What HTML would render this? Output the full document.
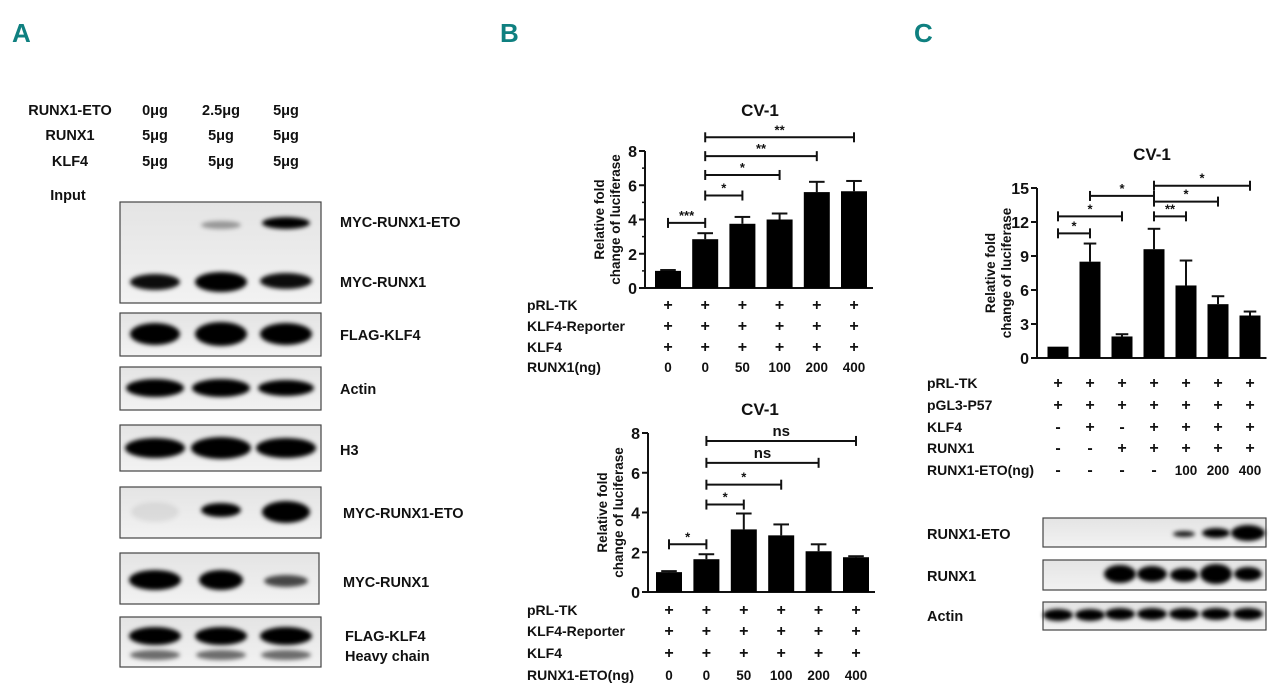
<!DOCTYPE html>
<html><head><meta charset="utf-8">
<style>
html,body{margin:0;padding:0;background:#fff;}
svg{display:block;font-family:"Liberation Sans",sans-serif;font-weight:bold;}
.lab{font-size:14.5px;fill:#111;}
.t{font-size:14px;fill:#111;}
</style></head>
<body>
<svg id="fig" width="1280" height="695" viewBox="0 0 1280 695">
<defs>
<filter id="bl" x="-30%" y="-80%" width="160%" height="260%"><feGaussianBlur stdDeviation="2.2"/></filter>
<linearGradient id="bg" x1="0" y1="0" x2="0" y2="1"><stop offset="0" stop-color="#e4e4e4"/><stop offset="1" stop-color="#f2f2f2"/></linearGradient>
</defs>
<g fill="#0f8080" font-size="26" style="font-family:'Liberation Sans Narrow','Liberation Sans',sans-serif">
<text x="12" y="42">A</text>
<text x="500" y="42">B</text>
<text x="914" y="42">C</text>
</g>
<g id="panelA"></g>
<g id="chartB1"></g>
<g id="chartB2"></g>
<g id="chartC"></g>
<g id="panelCblot"></g>
</svg>
<script>
// Chart B top data
const b1Values=[1.0,2.85,3.75,4.0,5.6,5.65];
const b1Errors=[0.05,0.35,0.4,0.35,0.6,0.6];
const b1Ticks=[0,2,4,6,8];
const b1Sig=[[0,1,3.8,"***"],[1,2,5.4,"*"],[1,3,6.6,"*"],[1,4,7.7,"**"],[1,5,8.8,"**"]];
const b1RunxNg=["0","0","50","100","200","400"];
// Chart B bottom data
const b2Values=[1.0,1.65,3.15,2.85,2.05,1.75];
const b2Errors=[0.05,0.25,0.8,0.55,0.35,0.05];
const b2Ticks=[0,2,4,6,8];
const b2Sig=[[0,1,2.4,"*"],[1,2,4.4,"*"],[1,3,5.4,"*"],[1,4,6.5,"ns"],[1,5,7.6,"ns"]];
const b2EtoNg=["0","0","50","100","200","400"];
// Chart C data
const cValues=[1.0,8.5,1.9,9.6,6.4,4.75,3.75];
const cErrors=[0,1.6,0.2,1.8,2.2,0.7,0.35];
const cTicks=[0,3,6,9,12,15];
const cSig=[[0,1,11,"*"],[0,2,12.5,"*"],[1,3,14.3,"*"],[3,4,12.5,"**"],[3,5,13.8,"*"],[3,6,15.2,"*"]];

const NS="http://www.w3.org/2000/svg";
function mk(parent,tag,attrs,text){const e=document.createElementNS(NS,tag);for(const k in attrs)e.setAttribute(k,attrs[k]);if(text!==undefined)e.textContent=text;parent.appendChild(e);return e;}

function barChart(g,cfg){
  const {axisX,y0,yTopPx,yMax,x0,step,bw,values,errors,ticks,minor,sig,title,titleY,ttlX}=cfg;
  const sy=v=>y0-(y0-yTopPx)*v/yMax;
  const sx=i=>x0+i*step;
  const t=mk(g,'text',{x:cfg.titleX,y:titleY,'text-anchor':'middle','font-size':17,fill:'#111'},title);
  
  
  const ax=mk(g,'line',{x1:axisX,y1:yTopPx,x2:axisX,y2:y0,stroke:'#111','stroke-width':2});
  
  
  const xa=mk(g,'line',{x1:axisX,y1:y0,x2:sx(values.length-1)+bw/2+6,y2:y0,stroke:'#111','stroke-width':2});
  
  
  ticks.forEach(v=>{
    mk(g,'line',{x1:axisX-6,y1:sy(v),x2:axisX,y2:sy(v),stroke:'#111','stroke-width':2});
    const tl=mk(g,'text',{x:axisX-8,y:sy(v)+6,'text-anchor':'end','font-size':16,fill:'#111'},String(v));
    
    
  });
  if(minor){for(let k=0;k<ticks.length-1;k++){const v=(ticks[k]+ticks[k+1])/2;mk(g,'line',{x1:axisX-3,y1:sy(v),x2:axisX,y2:sy(v),stroke:'#111','stroke-width':1.5});}}
  const yt=mk(g,'text',{'text-anchor':'middle','font-size':13.5,fill:'#111',transform:`translate(${ttlX},${(y0+yTopPx)/2}) rotate(-90)`});
  
  
  mk(yt,'tspan',{x:0,dy:-8},'Relative fold');
  mk(yt,'tspan',{x:0,dy:16},'change of luciferase');
  values.forEach((v,i)=>{
    const e=errors[i];
    if(e>0){
      mk(g,'line',{x1:sx(i),y1:sy(v+e),x2:sx(i),y2:sy(v),stroke:'#111','stroke-width':2});
      mk(g,'line',{x1:sx(i)-bw*0.3,y1:sy(v+e),x2:sx(i)+bw*0.3,y2:sy(v+e),stroke:'#111','stroke-width':2});
    }
    const r=mk(g,'rect',{x:sx(i)-bw/2,y:sy(v),width:bw,height:y0-sy(v),fill:'#000'});
    
    
  });
  sig.forEach(s=>{
    const [a,b,h,lab]=s;const y=sy(h);
    const bg=mk(g,'g',{});
    
    
    mk(bg,'line',{x1:sx(a),y1:y,x2:sx(b),y2:y,stroke:'#111','stroke-width':2});
    mk(bg,'line',{x1:sx(a),y1:y-5,x2:sx(a),y2:y+5,stroke:'#111','stroke-width':2});
    mk(bg,'line',{x1:sx(b),y1:y-5,x2:sx(b),y2:y+5,stroke:'#111','stroke-width':2});
    mk(bg,'text',{x:(sx(a)+sx(b))/2,y:lab==='ns'?y-5:y-3,'text-anchor':'middle','font-size':lab==='ns'?15:13,fill:'#111'},lab);
  });
  return sx;
}
function rows(g,labelX,x0,step,ys,rowsData){
  rowsData.forEach((r,k)=>{
    const l=mk(g,'text',{x:labelX,y:ys[k],class:'t'},r[0]);
    
    
    r[1].forEach((s,i)=>{mk(g,'text',{x:x0+i*step,y:ys[k],'text-anchor':'middle','font-size':s==='+'||s==='-'?16:13.5,fill:'#111'},s);});
  });
}

// Panel B top
const gB1=document.getElementById('chartB1');
barChart(gB1,{axisX:645,y0:288,yTopPx:151,yMax:8,x0:668,step:37.2,bw:26,values:b1Values,errors:b1Errors,ticks:b1Ticks,minor:true,sig:b1Sig,title:'CV-1',titleX:760,titleY:116,ttlX:612});
const P6=['+','+','+','+','+','+'];
rows(gB1,527,668,37.2,[310,331,352,372],[['pRL-TK',P6],['KLF4-Reporter',P6],['KLF4',P6],['RUNX1(ng)',b1RunxNg]]);
// Panel B bottom
const gB2=document.getElementById('chartB2');
barChart(gB2,{axisX:648,y0:592,yTopPx:433,yMax:8,x0:669,step:37.4,bw:26,values:b2Values,errors:b2Errors,ticks:b2Ticks,minor:false,sig:b2Sig,title:'CV-1',titleX:760,titleY:415,ttlX:615});
rows(gB2,527,669,37.4,[615,636,658,680],[['pRL-TK',P6],['KLF4-Reporter',P6],['KLF4',P6],['RUNX1-ETO(ng)',b2EtoNg]]);
// Panel C
const gC=document.getElementById('chartC');
barChart(gC,{axisX:1037,y0:358,yTopPx:188,yMax:15,x0:1058,step:32,bw:21,values:cValues,errors:cErrors,ticks:cTicks,minor:false,sig:cSig,title:'CV-1',titleX:1152,titleY:160,ttlX:1003});
rows(gC,927,1058,32,[388,410,432,453,475],[
 ['pRL-TK',['+','+','+','+','+','+','+']],
 ['pGL3-P57',['+','+','+','+','+','+','+']],
 ['KLF4',['-','+','-','+','+','+','+']],
 ['RUNX1',['-','-','+','+','+','+','+']],
 ['RUNX1-ETO(ng)',['-','-','-','-','100','200','400']]]);

// Blots
function blot(g,name,x,y,w,h,lanes,bands,label,lx,ly){
  const bg=mk(g,'g',{});
  
  
  mk(bg,'rect',{x:x,y:y,width:w,height:h,fill:'url(#bg)',stroke:'#444','stroke-width':1.2});
  bands.forEach(b=>{const [li,cy,rx,ry,op]=b;mk(bg,'ellipse',{cx:lanes[li],cy:cy,rx:rx,ry:ry,fill:'#000','fill-opacity':op,filter:'url(#bl)'});});
  if(label){const t=mk(g,'text',{x:lx,y:ly,class:'lab'},label);}
}
const gA=document.getElementById('panelA');
const LA=[155,221,286];
[['RUNX1-ETO',['0μg','2.5μg','5μg'],115],['RUNX1',['5μg','5μg','5μg'],140],['KLF4',['5μg','5μg','5μg'],166]].forEach(r=>{
  const t=mk(gA,'text',{x:70,y:r[2],'text-anchor':'middle',class:'lab'},r[0]);
  
  
  r[1].forEach((v,i)=>mk(gA,'text',{x:LA[i],y:r[2],'text-anchor':'middle',class:'lab'},v));
});
const inp=mk(gA,'text',{x:68,y:200,'text-anchor':'middle',class:'lab'},'Input');


blot(gA,'blot-myc-runx1-eto-runx1',120,202,201,101,LA,[[1,225,20,4,0.35],[2,223,24,6,1],[0,282,25,8,0.95],[1,282,26,10,1],[2,281,26,8,0.95]],'MYC-RUNX1-ETO',340,227);
mk(gA,'text',{x:340,y:287,class:'lab'},'MYC-RUNX1');
blot(gA,'blot-flag-klf4',120,313,201,43,LA,[[0,334,25,11,1],[1,334,26,12,1],[2,334,26,11,1]],'FLAG-KLF4',340,340);
blot(gA,'blot-actin',120,367,201,43,LA,[[0,388,29,9,1],[1,388,29,9,1],[2,388,28,8,1]],'Actin',340,394);
blot(gA,'blot-h3',120,425,201,46,LA,[[0,448,30,10,1],[1,448,30,11,1],[2,448,30,10,1]],'H3',340,455);
blot(gA,'blot-myc-runx1-eto-ip',120,487,201,51,LA,[[0,512,24,10,0.07],[1,510,20,7,1],[2,512,24,11,1]],'MYC-RUNX1-ETO',343,518);
blot(gA,'blot-myc-runx1-ip',120,553,199,51,LA,[[0,580,26,10,1],[1,580,22,10,1],[2,581,22,6,0.7]],'MYC-RUNX1',343,587);
blot(gA,'blot-flag-klf4-heavy',120,617,201,50,LA,[[0,636,26,9,1],[1,636,26,9,1],[2,636,26,9,1],[0,655,25,5,0.55],[1,655,25,5,0.55],[2,655,25,5,0.55]],'FLAG-KLF4',345,641);
mk(gA,'text',{x:345,y:661,class:'lab'},'Heavy chain');

const gCb=document.getElementById('panelCblot');
const LC=[1058,1090,1120,1152,1184,1216,1248];
blot(gCb,'blot-c-runx1-eto',1043,518,223,29,LC,[[4,534,11,3,0.9],[5,533,14,5,1],[6,533,17,8,1]],'RUNX1-ETO',927,539);
blot(gCb,'blot-c-runx1',1043,560,223,30,LC,[[2,574,16,9,1],[3,574,15,8,1],[4,575,14,7,1],[5,574,16,10,1],[6,574,14,7,1]],'RUNX1',927,581);
blot(gCb,'blot-c-actin',1043,602,223,28,LC,[[0,615,15,6,1],[1,615,15,6,1],[2,614,15,6,1],[3,614,15,6,1],[4,614,15,6,1],[5,614,15,6,1],[6,614,15,6,1]],'Actin',927,621);
</script>
</body></html>
